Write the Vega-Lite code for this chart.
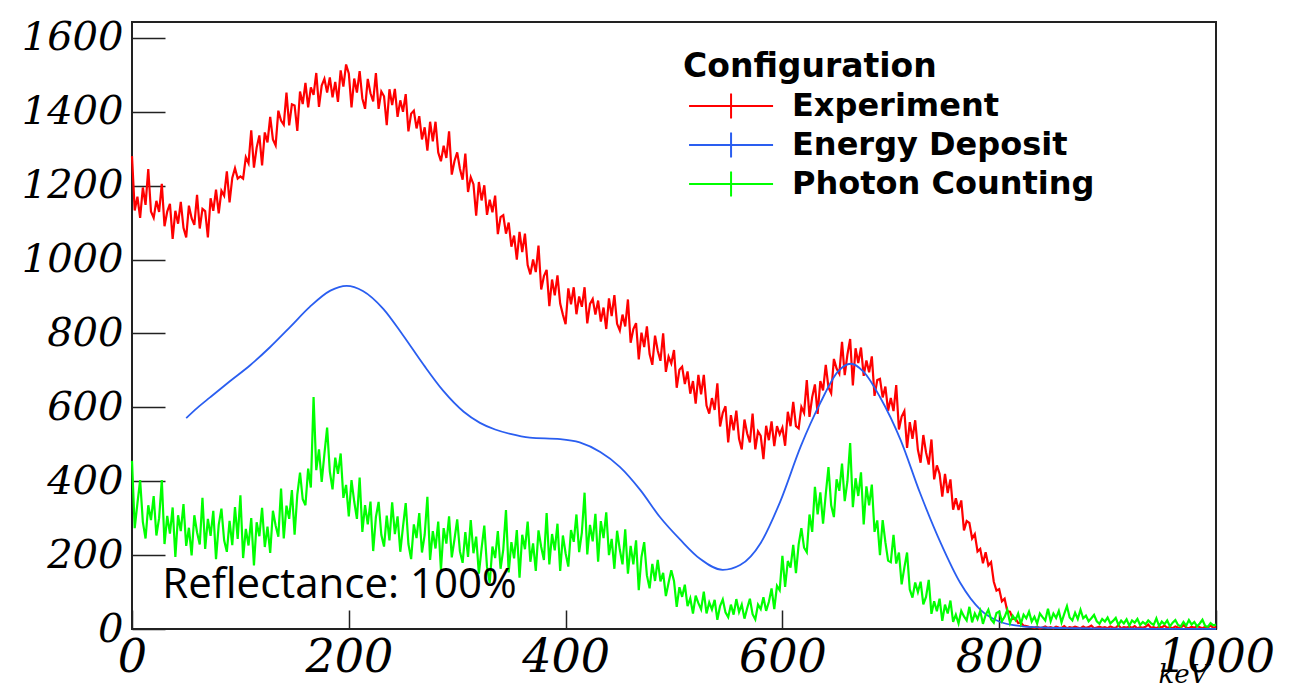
{
"$schema":"https://vega.github.io/schema/vega-lite/v6.json",
"width":1084,"height":607,
"autosize":{"type":"none"},
"padding":{"left":132,"top":22,"right":75,"bottom":63},
"background":"white",
"config":{"view":{"stroke":"#222","strokeWidth":2}},
"datasets":{
"spec":[
{"k":0,"r":1280,"g":455},{"k":2.5,"r":1133,"g":273},{"k":5,"r":1170,"g":340},{"k":7.5,"r":1113,"g":403},{"k":10,"r":1195,"g":290},{"k":12.5,"r":1148,"g":245},{"k":15,"r":1245,"g":335},{"k":17.5,"r":1130,"g":295},{"k":20,"r":1113,"g":360},{"k":22.5,"r":1159,"g":253},{"k":25,"r":1129,"g":300},{"k":27.5,"r":1205,"g":403},{"k":30,"r":1090,"g":230},{"k":32.5,"r":1130,"g":306},{"k":35,"r":1151,"g":258},{"k":37.5,"r":1056,"g":329},{"k":40,"r":1132,"g":195},{"k":42.5,"r":1097,"g":308},{"k":45,"r":1156,"g":265},{"k":47.5,"r":1086,"g":338},{"k":50,"r":1060,"g":225},{"k":52.5,"r":1146,"g":274},{"k":55,"r":1112,"g":199},{"k":57.5,"r":1094,"g":308},{"k":60,"r":1175,"g":262},{"k":62.5,"r":1084,"g":229},{"k":65,"r":1137,"g":355},{"k":67.5,"r":1131,"g":217},{"k":70,"r":1060,"g":298},{"k":72.5,"r":1166,"g":252},{"k":75,"r":1132,"g":320},{"k":77.5,"r":1189,"g":189},{"k":80,"r":1125,"g":282},{"k":82.5,"r":1186,"g":326},{"k":85,"r":1173,"g":240},{"k":87.5,"r":1239,"g":209},{"k":90,"r":1155,"g":293},{"k":92.5,"r":1221,"g":227},{"k":95,"r":1247,"g":330},{"k":97.5,"r":1219,"g":244},
{"k":100,"r":1225,"g":362},{"k":102.5,"r":1219,"g":192},{"k":105,"r":1277,"g":271},{"k":107.5,"r":1261,"g":226},{"k":110,"r":1350,"g":300},{"k":112.5,"r":1249,"g":172},{"k":115,"r":1303,"g":289},{"k":117.5,"r":1336,"g":251},{"k":120,"r":1255,"g":328},{"k":122.5,"r":1344,"g":222},{"k":125,"r":1317,"g":277},{"k":127.5,"r":1386,"g":206},{"k":130,"r":1325,"g":320},{"k":132.5,"r":1309,"g":280},{"k":135,"r":1403,"g":250},{"k":137.5,"r":1376,"g":380},{"k":140,"r":1365,"g":245},{"k":142.5,"r":1452,"g":334},{"k":145,"r":1363,"g":298},{"k":147.5,"r":1420,"g":376},{"k":150,"r":1417,"g":255},{"k":152.5,"r":1348,"g":364},{"k":155,"r":1455,"g":423},{"k":157.5,"r":1421,"g":351},{"k":160,"r":1478,"g":335},{"k":162.5,"r":1412,"g":434},{"k":165,"r":1466,"g":383},{"k":167.5,"r":1446,"g":628},{"k":170,"r":1505,"g":430},{"k":172.5,"r":1413,"g":486},{"k":175,"r":1471,"g":398},{"k":177.5,"r":1489,"g":474},{"k":180,"r":1452,"g":545},{"k":182.5,"r":1493,"g":426},{"k":185,"r":1439,"g":378},{"k":187.5,"r":1481,"g":464},{"k":190,"r":1427,"g":420},{"k":192.5,"r":1512,"g":475},{"k":195,"r":1468,"g":355},{"k":197.5,"r":1528,"g":390},
{"k":200,"r":1504,"g":305},{"k":202.5,"r":1412,"g":403},{"k":205,"r":1490,"g":345},{"k":207.5,"r":1452,"g":298},{"k":210,"r":1510,"g":410},{"k":212.5,"r":1436,"g":263},{"k":215,"r":1408,"g":335},{"k":217.5,"r":1489,"g":283},{"k":220,"r":1450,"g":345},{"k":222.5,"r":1428,"g":211},{"k":225,"r":1505,"g":303},{"k":227.5,"r":1408,"g":344},{"k":230,"r":1455,"g":255},{"k":232.5,"r":1442,"g":223},{"k":235,"r":1364,"g":307},{"k":237.5,"r":1461,"g":240},{"k":240,"r":1418,"g":343},{"k":242.5,"r":1462,"g":257},{"k":245,"r":1386,"g":305},{"k":247.5,"r":1431,"g":209},{"k":250,"r":1400,"g":277},{"k":252.5,"r":1448,"g":341},{"k":255,"r":1347,"g":230},{"k":257.5,"r":1395,"g":189},{"k":260,"r":1403,"g":283},{"k":262.5,"r":1355,"g":246},{"k":265,"r":1388,"g":314},{"k":267.5,"r":1325,"g":207},{"k":270,"r":1358,"g":255},{"k":272.5,"r":1295,"g":358},{"k":275,"r":1373,"g":187},{"k":277.5,"r":1320,"g":265},{"k":280,"r":1373,"g":218},{"k":282.5,"r":1290,"g":291},{"k":285,"r":1266,"g":160},{"k":287.5,"r":1308,"g":273},{"k":290,"r":1275,"g":231},{"k":292.5,"r":1347,"g":305},{"k":295,"r":1230,"g":194},{"k":297.5,"r":1267,"g":243},
{"k":300,"r":1290,"g":297},{"k":302.5,"r":1246,"g":210},{"k":305,"r":1216,"g":179},{"k":307.5,"r":1287,"g":262},{"k":310,"r":1183,"g":195},{"k":312.5,"r":1223,"g":295},{"k":315,"r":1204,"g":205},{"k":317.5,"r":1119,"g":250},{"k":320,"r":1210,"g":150},{"k":322.5,"r":1160,"g":218},{"k":325,"r":1201,"g":280},{"k":327.5,"r":1121,"g":168},{"k":330,"r":1162,"g":125},{"k":332.5,"r":1128,"g":223},{"k":335,"r":1173,"g":192},{"k":337.5,"r":1069,"g":265},{"k":340,"r":1115,"g":163},{"k":342.5,"r":1120,"g":215},{"k":345,"r":1070,"g":322},{"k":347.5,"r":1100,"g":153},{"k":350,"r":1035,"g":235},{"k":352.5,"r":1065,"g":191},{"k":355,"r":1000,"g":268},{"k":357.5,"r":1075,"g":139},{"k":360,"r":1020,"g":255},{"k":362.5,"r":1070,"g":216},{"k":365,"r":985,"g":291},{"k":367.5,"r":960,"g":182},{"k":370,"r":1000,"g":232},{"k":372.5,"r":966,"g":157},{"k":375,"r":1038,"g":267},{"k":377.5,"r":919,"g":222},{"k":380,"r":955,"g":187},{"k":382.5,"r":972,"g":314},{"k":385,"r":874,"g":175},{"k":387.5,"r":946,"g":257},{"k":390,"r":903,"g":213},{"k":392.5,"r":957,"g":285},{"k":395,"r":881,"g":157},{"k":397.5,"r":851,"g":253},
{"k":400,"r":825,"g":205},{"k":402.5,"r":922,"g":169},{"k":405,"r":879,"g":268},{"k":407.5,"r":925,"g":236},{"k":410,"r":852,"g":310},{"k":412.5,"r":900,"g":208},{"k":415,"r":872,"g":261},{"k":417.5,"r":925,"g":369},{"k":420,"r":827,"g":202},{"k":422.5,"r":880,"g":282},{"k":425,"r":893,"g":237},{"k":427.5,"r":851,"g":312},{"k":430,"r":889,"g":182},{"k":432.5,"r":832,"g":292},{"k":435,"r":870,"g":246},{"k":437.5,"r":812,"g":316},{"k":440,"r":895,"g":200},{"k":442.5,"r":847,"g":244},{"k":445,"r":904,"g":163},{"k":447.5,"r":826,"g":266},{"k":450,"r":808,"g":215},{"k":452.5,"r":851,"g":175},{"k":455,"r":819,"g":270},{"k":457.5,"r":892,"g":150},{"k":460,"r":775,"g":225},{"k":462.5,"r":812,"g":175},{"k":465,"r":828,"g":240},{"k":467.5,"r":730,"g":105},{"k":470,"r":802,"g":195},{"k":472.5,"r":763,"g":235},{"k":475,"r":819,"g":145},{"k":477.5,"r":744,"g":110},{"k":480,"r":715,"g":176},{"k":482.5,"r":794,"g":130},{"k":485,"r":753,"g":187},{"k":487.5,"r":726,"g":129},{"k":490,"r":800,"g":152},{"k":492.5,"r":696,"g":89},{"k":495,"r":737,"g":125},{"k":497.5,"r":719,"g":159},
{"k":500,"r":755,"g":130},{"k":502.5,"r":653,"g":60},{"k":505,"r":702,"g":113},{"k":507.5,"r":710,"g":87},{"k":510,"r":663,"g":120},{"k":512.5,"r":697,"g":62},{"k":515,"r":637,"g":83},{"k":517.5,"r":671,"g":42},{"k":520,"r":610,"g":90},{"k":522.5,"r":688,"g":70},{"k":525,"r":635,"g":53},{"k":527.5,"r":688,"g":101},{"k":530,"r":605,"g":42},{"k":532.5,"r":583,"g":72},{"k":535,"r":625,"g":53},{"k":537.5,"r":593,"g":79},{"k":540,"r":665,"g":25},{"k":542.5,"r":548,"g":62},{"k":545,"r":585,"g":80},{"k":547.5,"r":603,"g":45},{"k":550,"r":505,"g":32},{"k":552.5,"r":579,"g":66},{"k":555,"r":538,"g":39},{"k":557.5,"r":591,"g":81},{"k":560,"r":515,"g":46},{"k":562.5,"r":486,"g":66},{"k":565,"r":567,"g":28},{"k":567.5,"r":529,"g":56},{"k":570,"r":505,"g":82},{"k":572.5,"r":583,"g":40},{"k":575,"r":486,"g":26},{"k":577.5,"r":535,"g":66},{"k":580,"r":523,"g":54},{"k":582.5,"r":460,"g":86},{"k":585,"r":550,"g":49},{"k":587.5,"r":511,"g":73},{"k":590,"r":562,"g":110},{"k":592.5,"r":495,"g":54},{"k":595,"r":549,"g":117},{"k":597.5,"r":527,"g":105},
{"k":600,"r":545,"g":198},{"k":602.5,"r":496,"g":114},{"k":605,"r":588,"g":184},{"k":607.5,"r":549,"g":166},{"k":610,"r":615,"g":228},{"k":612.5,"r":549,"g":151},{"k":615,"r":543,"g":229},{"k":617.5,"r":601,"g":273},{"k":620,"r":585,"g":220},{"k":622.5,"r":674,"g":208},{"k":625,"r":574,"g":310},{"k":627.5,"r":628,"g":263},{"k":630,"r":662,"g":385},{"k":632.5,"r":582,"g":310},{"k":635,"r":671,"g":370},{"k":637.5,"r":646,"g":285},{"k":640,"r":715,"g":365},{"k":642.5,"r":654,"g":438},{"k":645,"r":638,"g":335},{"k":647.5,"r":731,"g":303},{"k":650,"r":705,"g":405},{"k":652.5,"r":691,"g":374},{"k":655,"r":777,"g":448},{"k":657.5,"r":687,"g":346},{"k":660,"r":743,"g":400},{"k":662.5,"r":785,"g":503},{"k":665,"r":659,"g":330},{"k":667.5,"r":760,"g":408},{"k":670,"r":720,"g":360},{"k":672.5,"r":762,"g":424},{"k":675,"r":685,"g":283},{"k":677.5,"r":727,"g":386},{"k":680,"r":695,"g":335},{"k":682.5,"r":738,"g":391},{"k":685,"r":631,"g":263},{"k":687.5,"r":674,"g":294},{"k":690,"r":677,"g":200},{"k":692.5,"r":627,"g":295},{"k":695,"r":656,"g":235},{"k":697.5,"r":591,"g":185},
{"k":700,"r":625,"g":181},{"k":702.5,"r":590,"g":255},{"k":705,"r":660,"g":177},{"k":707.5,"r":540,"g":207},{"k":710,"r":575,"g":121},{"k":712.5,"r":590,"g":166},{"k":715,"r":490,"g":207},{"k":717.5,"r":560,"g":107},{"k":720,"r":515,"g":85},{"k":722.5,"r":565,"g":126},{"k":725,"r":485,"g":100},{"k":727.5,"r":450,"g":128},{"k":730,"r":525,"g":67},{"k":732.5,"r":478,"g":87},{"k":735,"r":445,"g":133},{"k":737.5,"r":513,"g":41},{"k":740,"r":405,"g":75},{"k":742.5,"r":443,"g":48},{"k":745,"r":420,"g":82},{"k":747.5,"r":358,"g":22},{"k":750,"r":420,"g":66},{"k":752.5,"r":368,"g":42},{"k":755,"r":405,"g":77},{"k":757.5,"r":323,"g":19},{"k":760,"r":354,"g":39},{"k":762.5,"r":322,"g":15},{"k":765,"r":348,"g":49},{"k":767.5,"r":267,"g":34},{"k":770,"r":292,"g":23},{"k":772.5,"r":287,"g":60},{"k":775,"r":245,"g":18},{"k":777.5,"r":257,"g":42},{"k":780,"r":210,"g":27},{"k":782.5,"r":217,"g":49},{"k":785,"r":178,"g":14},{"k":787.5,"r":208,"g":38},{"k":790,"r":172,"g":52},{"k":792.5,"r":181,"g":26},{"k":795,"r":128,"g":17},{"k":797.5,"r":104,"g":43},
{"k":800,"r":108,"g":47},{"k":802.5,"r":75,"g":21},{"k":805,"r":82,"g":33},{"k":807.5,"r":48,"g":52},{"k":810,"r":47,"g":16},{"k":812.5,"r":27,"g":36},{"k":815,"r":29,"g":24},{"k":817.5,"r":16,"g":42},{"k":820,"r":17,"g":14},{"k":822.5,"r":9,"g":39},{"k":825,"r":8,"g":29},{"k":827.5,"r":6,"g":47},{"k":830,"r":5,"g":20},{"k":832.5,"r":3,"g":33},{"k":835,"r":6,"g":15},{"k":837.5,"r":2,"g":42},{"k":840,"r":4,"g":32},{"k":842.5,"r":7,"g":23},{"k":845,"r":3,"g":55},{"k":847.5,"r":5,"g":21},{"k":850,"r":2,"g":42},{"k":852.5,"r":6,"g":30},{"k":855,"r":4,"g":49},{"k":857.5,"r":3,"g":18},{"k":860,"r":8,"g":41},{"k":862.5,"r":2,"g":62},{"k":865,"r":5,"g":31},{"k":867.5,"r":3,"g":23},{"k":870,"r":6,"g":44},{"k":872.5,"r":4,"g":27},{"k":875,"r":2,"g":52},{"k":877.5,"r":7,"g":29},{"k":880,"r":3,"g":36},{"k":882.5,"r":5,"g":21},{"k":885,"r":9,"g":29},{"k":887.5,"r":2,"g":38},{"k":890,"r":4,"g":21},{"k":892.5,"r":6,"g":14},{"k":895,"r":3,"g":27},{"k":897.5,"r":5,"g":20},
{"k":900,"r":2,"g":31},{"k":902.5,"r":7,"g":15},{"k":905,"r":4,"g":22},{"k":907.5,"r":3,"g":30},{"k":910,"r":10,"g":11},{"k":912.5,"r":2,"g":23},{"k":915,"r":5,"g":15},{"k":917.5,"r":4,"g":26},{"k":920,"r":6,"g":9},{"k":922.5,"r":3,"g":23},{"k":925,"r":8,"g":17},{"k":927.5,"r":2,"g":27},{"k":930,"r":5,"g":11},{"k":932.5,"r":3,"g":19},{"k":935,"r":6,"g":13},{"k":937.5,"r":12,"g":23},{"k":940,"r":3,"g":16},{"k":942.5,"r":5,"g":11},{"k":945,"r":2,"g":29},{"k":947.5,"r":6,"g":8},{"k":950,"r":4,"g":20},{"k":952.5,"r":9,"g":13},{"k":955,"r":3,"g":23},{"k":957.5,"r":5,"g":7},{"k":960,"r":2,"g":17},{"k":962.5,"r":7,"g":24},{"k":965,"r":4,"g":11},{"k":967.5,"r":3,"g":7},{"k":970,"r":11,"g":19},{"k":972.5,"r":4,"g":9},{"k":975,"r":2,"g":24},{"k":977.5,"r":6,"g":12},{"k":980,"r":3,"g":19},{"k":982.5,"r":8,"g":7},{"k":985,"r":5,"g":15},{"k":987.5,"r":2,"g":25},{"k":990,"r":6,"g":8},{"k":992.5,"r":4,"g":6},{"k":995,"r":9,"g":16},{"k":997.5,"r":3,"g":10},{"k":1000,"r":5,"g":12}
],
"ed":[
{"k":50,"b":571},{"k":60,"b":598},{"k":72,"b":627},{"k":90,"b":670},{"k":109,"b":714},{"k":127,"b":762},{"k":146,"b":818},{"k":164,"b":872},{"k":183,"b":916},{"k":198,"b":929},{"k":213,"b":915},{"k":232,"b":866},{"k":250,"b":795},{"k":269,"b":715},{"k":287,"b":645},{"k":306,"b":588},{"k":321,"b":558},{"k":335,"b":540},{"k":349,"b":528},{"k":367,"b":518},{"k":395,"b":514},{"k":413,"b":505},{"k":432,"b":479},{"k":450,"b":439},{"k":469,"b":376},{"k":487,"b":303},{"k":506,"b":241},{"k":524,"b":190},{"k":545,"b":160},{"k":561,"b":173},{"k":580,"b":233},{"k":598,"b":345},{"k":617,"b":495},{"k":635,"b":612},{"k":651,"b":696},{"k":663,"b":718},{"k":675,"b":696},{"k":690,"b":628},{"k":709,"b":512},{"k":727,"b":368},{"k":746,"b":233},{"k":764,"b":125},{"k":783,"b":51},{"k":801,"b":19},{"k":820,"b":8},{"k":840,"b":4},{"k":870,"b":2},{"k":900,"b":1},{"k":950,"b":0.5},{"k":1000,"b":0.3}
]
},
"layer":[
{"data":{"name":"spec"},
 "mark":{"type":"line","strokeWidth":2.2},
 "encoding":{
  "x":{"field":"k","type":"quantitative","title":"keV","scale":{"domain":[0,1000],"nice":false,"zero":false},
   "axis":{"values":[0,200,400,600,800,1000],"format":"d","tickSize":-19,"tickColor":"#222","tickWidth":1.5,"domain":false,"grid":false,
    "labelFont":"DejaVu Serif","labelFontStyle":"italic","labelFontSize":46,"labelColor":"black","labelPadding":25,"labelFlush":false,"labelOverlap":false,
    "titleFont":"DejaVu Serif","titleFontStyle":"italic","titleFontWeight":"normal","titleFontSize":26,"titleColor":"black","titleAlign":"right","titleBaseline":"alphabetic","titleX":1076,"titleY":53}},
  "y":{"field":"r","type":"quantitative","title":null,"scale":{"domain":[0,1643],"nice":false},
   "axis":{"values":[0,200,400,600,800,1000,1200,1400,1600],"format":"d","tickSize":-33,"tickColor":"#222","tickWidth":1.5,"domain":false,"grid":false,
    "labelFont":"DejaVu Serif","labelFontStyle":"italic","labelFontSize":40,"labelColor":"black","labelPadding":42,"labelFlush":false,"labelOverlap":false,"labelBaseline":"middle"}},
  "color":{"datum":"Experiment","type":"nominal",
   "scale":{"domain":["Experiment","Energy Deposit","Photon Counting"],"range":["#ff0000","#2a5ef0","#00ff00"]},
   "legend":{"orient":"none","legendX":551,"legendY":29,"title":"Configuration","titleFont":"DejaVu Sans","titleFontSize":33,"titleFontWeight":"bold","titleColor":"black","titlePadding":6,"titleLimit":0,
    "labelFont":"DejaVu Sans","labelFontSize":32,"labelFontWeight":"bold","labelColor":"black","labelOffset":77,"labelLimit":0,
    "symbolType":"M-0.71,0H5.29M2.29,-0.9V0.9","symbolSize":784,"symbolStrokeWidth":2,"symbolFillColor":"transparent","rowPadding":5,"padding":0}}
 }},
{"data":{"name":"ed"},
 "mark":{"type":"line","strokeWidth":1.8,"interpolate":"monotone"},
 "encoding":{
  "x":{"field":"k","type":"quantitative","title":"keV"},
  "y":{"field":"b","type":"quantitative","title":null},
  "color":{"datum":"Energy Deposit","type":"nominal"}
 }},
{"data":{"name":"spec"},
 "mark":{"type":"line","strokeWidth":2.2},
 "encoding":{
  "x":{"field":"k","type":"quantitative","title":"keV"},
  "y":{"field":"g","type":"quantitative","title":null},
  "color":{"datum":"Photon Counting","type":"nominal"}
 }},
{"data":{"values":[{"k":28,"v":84,"t":"Reflectance: 100%"}]},
 "mark":{"type":"text","align":"left","baseline":"alphabetic","font":"Open Sans","fontSize":42,"color":"black"},
 "encoding":{
  "x":{"field":"k","type":"quantitative","title":"keV"},
  "y":{"field":"v","type":"quantitative","title":null},
  "text":{"field":"t"}
 }}
]
}
